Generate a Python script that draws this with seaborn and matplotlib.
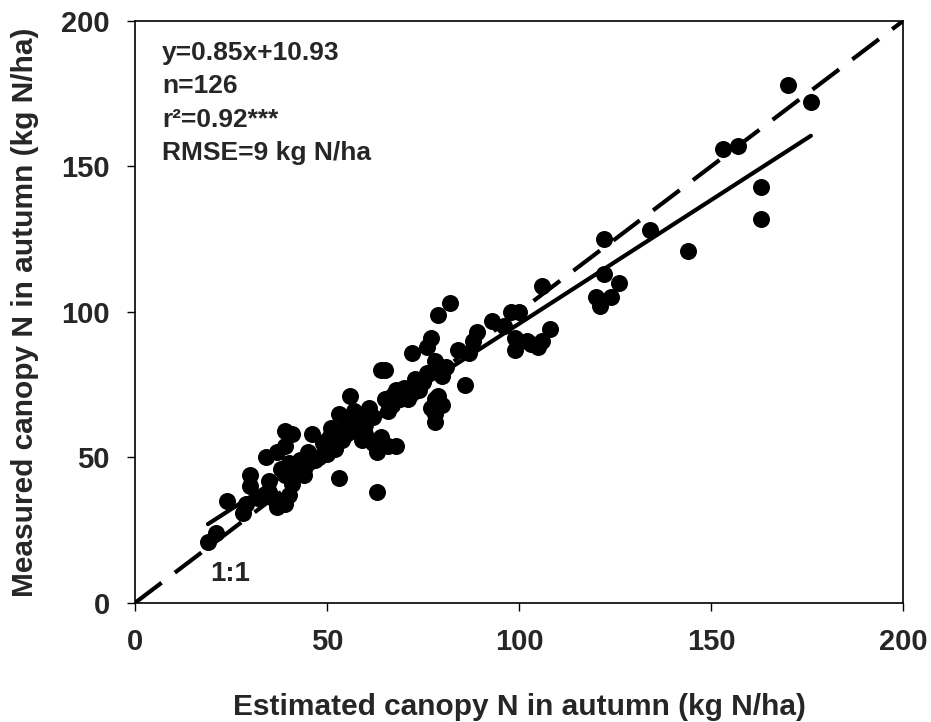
import matplotlib

matplotlib.use("Agg")

import matplotlib.pyplot as plt
import numpy as np
import pandas as pd
import seaborn as sns

# estimated vs measured canopy N (kg N/ha)
estimated = [
    19, 21, 24, 28, 29, 30, 30, 32, 34, 35, 35, 36, 37, 37, 38, 39, 39, 39, 39, 40,
    40, 41, 41, 42, 42, 43, 44, 44, 46, 47, 48, 49, 50, 50, 51, 51, 52, 52, 53, 53,
    54, 55, 56, 56, 57, 57, 58, 59, 60, 60, 60, 61, 62, 62, 63, 63, 64, 64, 65, 65,
    66, 66, 67, 67, 68, 68, 69, 70, 71, 72, 72, 73, 74, 75, 76, 77, 77, 78, 78, 78,
    78, 79, 79, 79, 80, 80, 81, 82, 84, 86, 87, 88, 89, 93, 96, 98, 99, 99, 100, 102,
    103, 105, 106, 106, 108, 120, 121, 122, 122, 124, 126, 134, 144, 153, 157, 163, 163, 170, 176,
    45, 55, 58, 61, 70, 74, 76,
]
measured = [
    21, 24, 35, 31, 34, 40, 44, 36, 50, 38, 42, 36, 33, 52, 46, 34, 44, 54, 59, 37,
    48, 41, 58, 45, 47, 49, 44, 46, 58, 49, 50, 55, 51, 56, 58, 60, 53, 57, 65, 43,
    56, 59, 61, 71, 64, 66, 62, 56, 58, 61, 63, 67, 64, 55, 38, 52, 57, 80, 80, 70,
    54, 66, 68, 71, 73, 54, 70, 74, 70, 86, 72, 77, 75, 76, 88, 91, 67, 70, 62, 65,
    83, 99, 71, 80, 68, 78, 81, 103, 87, 75, 86, 90, 93, 97, 95, 100, 87, 91, 100, 90,
    89, 88, 109, 90, 94, 105, 102, 125, 113, 105, 110, 128, 121, 156, 157, 143, 132, 178, 172,
    52, 62, 60, 65, 72, 73, 79,
]

slope = 0.85
intercept = 10.93
fit_range = [19, 176]
one_to_one = [0, 200]
stats_text = ["y=0.85x+10.93", "n=126", "r²=0.92***", "RMSE=9 kg N/ha"]

df = pd.DataFrame({"estimated": estimated, "measured": measured})

sns.set_style("white")
plt.rcParams["font.family"] = ["Liberation Sans", "DejaVu Sans"]
plt.rcParams["font.weight"] = "bold"

fig = plt.figure(figsize=(9.31, 7.22), dpi=100)
ax = fig.add_axes([0.145, 0.165, 0.825, 0.806])

sns.scatterplot(data=df, x="estimated", y="measured", color="black", s=150,
                edgecolor="black", linewidth=0, ax=ax, zorder=3)

xfit = np.array(fit_range)
ax.plot(xfit, slope * xfit + intercept, color="black", lw=3, solid_capstyle="round", zorder=2)
ax.plot(one_to_one, one_to_one, color="black", lw=3, dashes=(8, 4), zorder=2)

ax.set_xlim(0, 200)
ax.set_ylim(0, 200)
ax.set_xticks([0, 50, 100, 150, 200])
ax.set_yticks([0, 50, 100, 150, 200])
ax.tick_params(direction="out", length=6, width=1, color="black", labelsize=21, pad=12,
               bottom=True, left=True)
for label in ax.get_xticklabels() + ax.get_yticklabels():
    label.set_fontweight("bold")
for spine in ax.spines.values():
    spine.set_color("black")
    spine.set_linewidth(1.2)

ax.set_xlabel("Estimated canopy N in autumn (kg N/ha)", fontsize=21.5, fontweight="bold", labelpad=27)
ax.set_ylabel("Measured canopy N in autumn (kg N/ha)", fontsize=21.5, fontweight="bold", labelpad=16)

for i, line in enumerate(stats_text):
    ax.text(7.0, 189 - i * 11.5, line, fontsize=19, fontweight="bold", va="center", ha="left")
ax.text(19.5, 10, "1:1", fontsize=20, fontweight="bold", va="center", ha="left")

fig.savefig("out.png", dpi=100)
plt.close(fig)
